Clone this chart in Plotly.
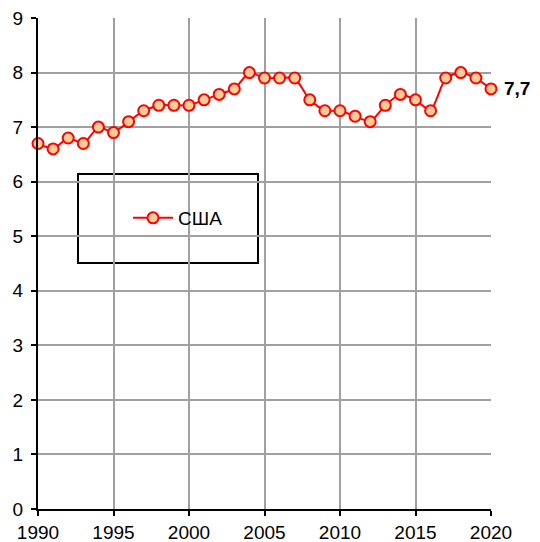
import plotly.graph_objects as go

years = list(range(1990, 2021))
usa = [6.7, 6.6, 6.8, 6.7, 7.0, 6.9, 7.1, 7.3, 7.4, 7.4, 7.4, 7.5, 7.6, 7.7, 8.0,
       7.9, 7.9, 7.9, 7.5, 7.3, 7.3, 7.2, 7.1, 7.4, 7.6, 7.5, 7.3, 7.9, 8.0, 7.9, 7.7]
series_name = "США"
last_label = "7,7"
x_ticks = [1990, 1995, 2000, 2005, 2010, 2015, 2020]
y_ticks = list(range(0, 10))

# page body has an 8px default margin, so the figure is offset by (8, 8)
OFF = 8

fig = go.Figure()
fig.add_trace(go.Scatter(
    x=years, y=usa, name=series_name, mode="lines+markers",
    line=dict(color="#FF0000", width=2, shape="spline", smoothing=0.5),
    marker=dict(size=11, color="#FFCC99", line=dict(color="#FF0000", width=2)),
    showlegend=True, cliponaxis=False,
))

fig.add_annotation(x=years[-1], y=usa[-1], text="<b>" + last_label + "</b>",
                   xref="x", yref="y", showarrow=False, xanchor="left",
                   xshift=12, borderpad=0,
                   font=dict(size=19, color="black", family="Liberation Sans, Arial"))

fig.add_shape(type="rect", xref="paper", yref="paper",
              x0=(78 - 38) / 453, x1=(258 - 38) / 453,
              y0=(509 - 263) / 491, y1=(509 - 174) / 491,
              line=dict(color="black", width=2), fillcolor="white", layer="below")

fig.update_layout(
    width=540 - OFF, height=542 - OFF,
    margin=dict(l=38 - OFF, r=49, t=18 - OFF, b=33),
    paper_bgcolor="white", plot_bgcolor="white",
    font=dict(family="Liberation Sans, Arial", size=19, color="black"),
    showlegend=True,
    legend=dict(x=(178 - 38) / 453, y=(509 - 218) / 491, xanchor="center", yanchor="middle",
                bgcolor="rgba(0,0,0,0)", borderwidth=0, font=dict(size=19),
                itemwidth=40),
    xaxis=dict(range=[1990, 2020], tickvals=x_ticks, showgrid=True,
               gridcolor="#A0A0A0", gridwidth=2, showline=True, linecolor="black",
               linewidth=2, ticks="outside", ticklen=5, tickcolor="black", tickwidth=2,
               ticklabeloverflow="allow",
               zeroline=False, fixedrange=True, automargin=False),
    yaxis=dict(range=[0, 9], tickvals=y_ticks, showgrid=True,
               gridcolor="#A0A0A0", gridwidth=2, showline=True, linecolor="black",
               linewidth=2, ticks="outside", ticklen=5, tickcolor="black", tickwidth=2,
               ticklabelstandoff=4, ticklabeloverflow="allow",
               zeroline=False, fixedrange=True, automargin=False),
)
fig.write_html("out.html")
